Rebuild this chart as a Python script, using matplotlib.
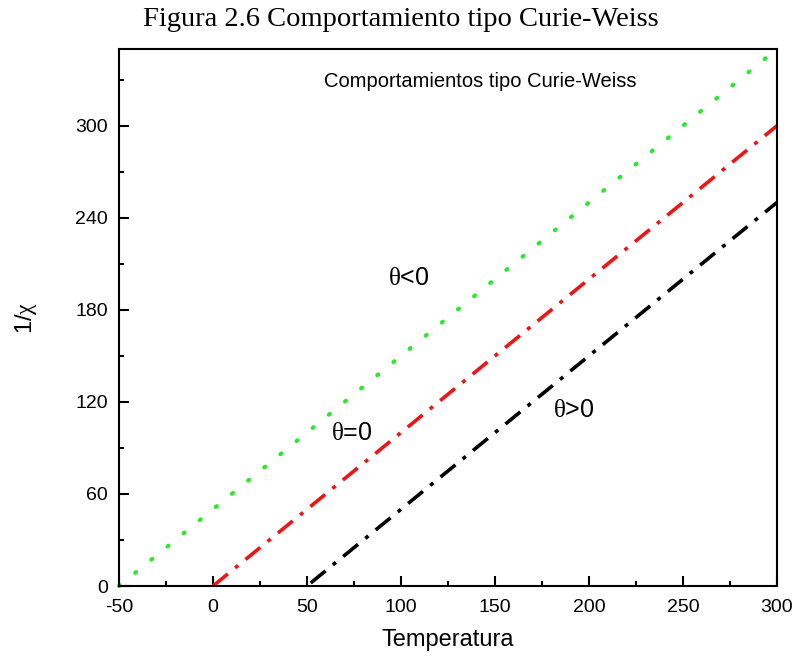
import numpy as np
import matplotlib
matplotlib.use("Agg")
import matplotlib.pyplot as plt
from matplotlib.ticker import MultipleLocator

# ------------------------------------------------------------------ Daten
T_NEG = [-50, 295]        # theta < 0 (theta = -50)
CHI_NEG = [0, 345]
T_ZERO = [0, 300]         # theta = 0
CHI_ZERO = [0, 300]
T_POS = [52, 300]         # theta > 0 (theta = 50)
CHI_POS = [2, 250]

LABELS = ["$\\theta$<0", "$\\theta$=0", "$\\theta$>0"]
LABEL_POS = [(104, 201), (74, 100), (192, 115)]

plt.rcParams["font.family"] = ["Liberation Sans", "DejaVu Sans"]
plt.rcParams["mathtext.fontset"] = "custom"
plt.rcParams["mathtext.rm"] = "Liberation Serif"
plt.rcParams["mathtext.it"] = "Liberation Serif"
plt.rcParams["axes.unicode_minus"] = False

fig = plt.figure(figsize=(8.02, 6.62), dpi=100)
ax = fig.add_axes([0.1484, 0.1148, 0.8204, 0.8112])

dashdot = (0, (5.3, 2.6, 1.1, 2.6))
ax.plot(T_NEG, CHI_NEG, color="#2ee82e", lw=3,
        ls=(0, (0.3, 4.7)), dash_capstyle="round", clip_on=False)
ax.plot(T_ZERO, CHI_ZERO, color="#ee1515", lw=2.6, ls=dashdot)
ax.plot(T_POS, CHI_POS, color="black", lw=2.6, ls=dashdot)

for txt, (x, y) in zip(LABELS, LABEL_POS):
    ax.text(x, y, txt, fontsize=18, ha="center", va="center")

ax.text(142, 329, "Comportamientos tipo Curie-Weiss", fontsize=14.5,
        ha="center", va="center")

ax.set_xlim(-50, 300)
ax.set_ylim(0, 350)
ax.xaxis.set_major_locator(MultipleLocator(50))
ax.xaxis.set_minor_locator(MultipleLocator(25))
ax.yaxis.set_major_locator(MultipleLocator(60))
ax.yaxis.set_minor_locator(MultipleLocator(30))
ax.tick_params(which="both", direction="in", top=False, right=False,
               width=1.5, labelsize=14)
ax.tick_params(which="major", length=7)
ax.tick_params(which="minor", length=3.5)
ax.tick_params(axis="x", pad=9)
ax.tick_params(axis="y", pad=8)
for s in ax.spines.values():
    s.set_linewidth(1.5)

ax.set_xlabel("Temperatura", fontsize=17, labelpad=10)
ax.set_ylabel("1/$\\chi$", fontsize=17, labelpad=26)

fig.suptitle("Figura 2.6 Comportamiento tipo Curie-Weiss",
             family="Liberation Serif", fontsize=20.5, y=0.99)

fig.savefig("out.png", dpi=100)
